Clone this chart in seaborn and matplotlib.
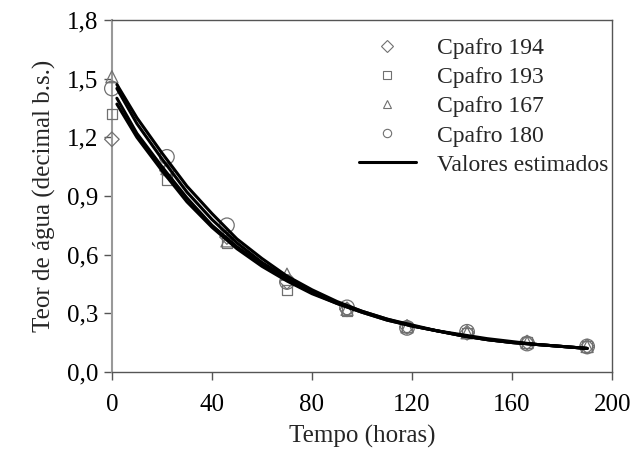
import matplotlib
matplotlib.use("Agg")
import matplotlib.pyplot as plt
from matplotlib.lines import Line2D
from matplotlib.ticker import FuncFormatter
import seaborn as sns
import pandas as pd

# observed drying data (hours, moisture content decimal d.b.)
tempo_obs = [0, 22, 46, 70, 94, 118, 142, 166, 190]
cpafro_194 = [1.19, 1.03, 0.69, 0.46, 0.32, 0.23, 0.20, 0.15, 0.13]
cpafro_193 = [1.32, 0.98, 0.66, 0.42, 0.31, 0.23, 0.20, 0.15, 0.13]
cpafro_167 = [1.51, 1.04, 0.67, 0.50, 0.32, 0.23, 0.20, 0.15, 0.13]
cpafro_180 = [1.45, 1.10, 0.75, 0.46, 0.33, 0.225, 0.205, 0.145, 0.13]

# estimated (model) curves
tempo_est = [2, 10, 20, 30, 40, 50, 60, 70, 80, 90, 100, 110, 120, 130, 140, 150, 160, 170, 180, 190]
est_180 = [1.47, 1.30, 1.12, 0.95, 0.81, 0.68, 0.58, 0.49, 0.42, 0.36, 0.31, 0.27, 0.24, 0.21, 0.19, 0.17, 0.155, 0.14, 0.13, 0.12]
est_167 = [1.45, 1.27, 1.09, 0.92, 0.78, 0.66, 0.56, 0.48, 0.41, 0.355, 0.31, 0.27, 0.235, 0.21, 0.185, 0.165, 0.15, 0.14, 0.13, 0.12]
est_193 = [1.40, 1.22, 1.05, 0.89, 0.75, 0.64, 0.55, 0.47, 0.405, 0.35, 0.305, 0.265, 0.235, 0.21, 0.185, 0.165, 0.15, 0.14, 0.13, 0.12]
est_194 = [1.37, 1.20, 1.03, 0.87, 0.74, 0.63, 0.54, 0.465, 0.40, 0.35, 0.305, 0.265, 0.235, 0.21, 0.185, 0.165, 0.15, 0.14, 0.13, 0.12]

series = {
    "Cpafro 194": (cpafro_194, "D", 55),
    "Cpafro 193": (cpafro_193, "s", 55),
    "Cpafro 167": (cpafro_167, "^", 75),
    "Cpafro 180": (cpafro_180, "o", 110),
}

curves = pd.DataFrame({
    "tempo": tempo_est * 4,
    "teor": est_180 + est_167 + est_193 + est_194,
    "curva": sum([[c] * len(tempo_est) for c in ["180", "167", "193", "194"]], []),
})

sns.set_style("white")
plt.rcParams["font.family"] = ["Liberation Serif", "DejaVu Serif"]

fig, ax = plt.subplots(figsize=(6.43, 4.66), dpi=100)
fig.subplots_adjust(left=0.174, right=0.952, bottom=0.202, top=0.957)

mark_color = "#707070"
handles = []
for name, (vals, m, s) in series.items():
    sns.scatterplot(x=tempo_obs, y=vals, marker=m, s=s, ax=ax, clip_on=False,
                    facecolor="none", edgecolor=mark_color, linewidth=0.9, zorder=3)
    handles.append(Line2D([], [], marker=m, linestyle="none", markersize=6,
                          markerfacecolor="none", markeredgecolor=mark_color,
                          markeredgewidth=0.8, label=name))

sns.lineplot(data=curves, x="tempo", y="teor", units="curva", estimator=None,
             color="black", linewidth=2.2, ax=ax, zorder=4)
handles.append(Line2D([], [], color="black", linewidth=2.2, label="Valores estimados"))

ax.set_xlim(0, 200)
ax.set_ylim(0, 1.8)
ax.set_xticks(range(0, 201, 40))
ax.set_yticks([0, 0.3, 0.6, 0.9, 1.2, 1.5, 1.8])
ax.yaxis.set_major_formatter(FuncFormatter(lambda v, p: f"{v:.1f}".replace(".", ",")))
ax.tick_params(axis="both", labelsize=18, colors="#555555", labelcolor="black",
               direction="out", length=6, width=1)
ax.tick_params(axis="x", pad=10)
ax.tick_params(left=True, bottom=True)

for side in ["top", "right", "bottom"]:
    ax.spines[side].set_color("#555555")
    ax.spines[side].set_linewidth(1)
ax.spines["left"].set_color("#999999")
ax.spines["left"].set_linewidth(1.5)

ax.set_xlabel("Tempo (horas)", fontsize=18, labelpad=6)
ax.set_ylabel("Teor de água (decimal b.s.)", fontsize=18, labelpad=8)

ax.legend(handles=handles, loc="upper right", frameon=False, fontsize=17,
          handlelength=2.4, handletextpad=0.9, labelspacing=0.32,
          bbox_to_anchor=(1.035, 1.01))

fig.savefig("out.png", dpi=100)
